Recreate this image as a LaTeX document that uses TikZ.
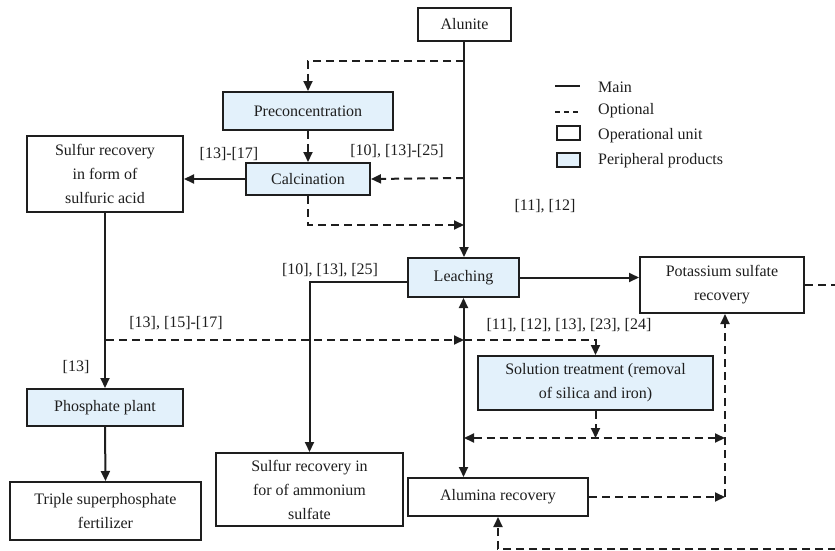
\documentclass[tikz,border=0pt]{standalone}
\usepackage{fontspec}
\setmainfont{Liberation Serif}
\usetikzlibrary{arrows.meta}
\definecolor{pblue}{RGB}{227,241,251}
\definecolor{ink}{RGB}{30,30,30}
\begin{document}
\begin{tikzpicture}[x=1pt,y=-1pt,
  txt/.style={font=\fontsize{16}{24}\selectfont, text=ink},
  box/.style={txt, draw=ink, line width=2pt, inner sep=0pt, align=center},
  unit/.style={box, fill=white},
  peri/.style={box, fill=pblue},
  mainln/.style={draw=ink, line width=2pt},
  optln/.style={draw=ink, line width=2pt, dash pattern=on 8pt off 5pt},
  tip/.style={-{Triangle[length=10pt,width=9pt]}},
  dtip/.style={{Triangle[length=10pt,width=9pt]}-{Triangle[length=10pt,width=9pt]}},
  lbl/.style={txt, inner sep=0pt}
]
\useasboundingbox (0,0) rectangle (835,551);

% boxes
\node[unit, minimum width=93pt, minimum height=33pt] (alunite) at (464.5,24.5) {Alunite};
\node[peri, minimum width=170pt, minimum height=38pt] (precon) at (308,111) {Preconcentration};
\node[peri, minimum width=124pt, minimum height=32pt] (calc) at (308,179) {Calcination};
\node[unit, minimum width=156pt, minimum height=76pt] (sacid) at (105,174) {Sulfur recovery\\in form of\\sulfuric acid};
\node[peri, minimum width=111pt, minimum height=39pt] (leach) at (463.5,277.5) {Leaching};
\node[unit, minimum width=164pt, minimum height=56pt] (potass) at (722,285) {Potassium sulfate\\recovery};
\node[peri, minimum width=235pt, minimum height=54pt] (solut) at (595.5,383) {Solution treatment (removal\\of silica and iron)};
\node[unit, minimum width=187pt, minimum height=73pt] (ammon) at (309.5,489.5) {Sulfur recovery in\\for of ammonium\\sulfate};
\node[unit, minimum width=180pt, minimum height=38pt] (alumina) at (498,497) {Alumina recovery};
\node[peri, minimum width=156pt, minimum height=37pt] (phos) at (105,407.5) {Phosphate plant};
\node[unit, minimum width=191pt, minimum height=58pt] (triple) at (105.5,511) {Triple superphosphate\\fertilizer};

% junction coordinates
\coordinate (j1) at (464,61);
\coordinate (j2) at (464,178);
\coordinate (j3) at (464,225);
\coordinate (j4) at (106,340);
\coordinate (j5) at (464,340);
\coordinate (k1) at (464,438);
\coordinate (k2) at (725,438);
\coordinate (k3) at (725,497);
\coordinate (r1) at (836,285);
\coordinate (m1) at (836,549);

% main connectors
\draw[mainln, tip] (alunite.south -| j1) -- (leach.north -| j1);
\draw[mainln, tip] (calc.west) -- (sacid.east |- calc.west);
\draw[mainln, tip] (sacid.south) -- (phos.north);
\draw[mainln, tip] (phos.south) -- (triple.north);
\draw[mainln, tip] ([yshift=-4pt]leach.west) -| (ammon.north);
\draw[mainln, tip] (leach.east) -- (leach.east -| potass.west);
\draw[mainln, dtip] (leach.south) -- (leach.south |- alumina.north);

% optional connectors
\draw[optln, tip] (j1) -| (precon.north);
\draw[optln, tip] (precon.south) -- (calc.north);
\draw[optln, tip] (j2) -- (calc.east);
\draw[optln, tip] (calc.south) |- (j3);
\draw[optln, tip] (j4) -- (j5);
\draw[optln, tip] (j5) -| (solut.north);
\draw[optln, tip] (solut.south) -- (solut.south |- k1);
\draw[optln, dtip] (k1) -- (k2);
\draw[optln, tip] (k3) -- (k3 |- potass.south);
\draw[optln, tip] (alumina.east) -- (k3);
\draw[optln] (potass.east) -- (r1);
\draw[optln, tip] (m1) -| (alumina.south);

% labels
\node[lbl] (l1) at (397,151) {[10], [13]-[25]};
\node[lbl] (l2) at (545,206) {[11], [12]};
\node[lbl] (l3) at (229,154) {[13]-[17]};
\node[lbl] (l4) at (176,323) {[13], [15]-[17]};
\node[lbl] (l5) at (569,325) {[11], [12], [13], [23], [24]};
\node[lbl] (l6) at (76,367) {[13]};
\node[lbl] (l7) at (330,270) {[10], [13], [25]};

% legend
\coordinate (g1) at (555,86);
\coordinate (g2) at (580,86);
\coordinate (g3) at (555,112);
\coordinate (g4) at (580,112);
\draw[draw=ink, line width=1.4pt] (g1) -- (g2);
\draw[draw=ink, line width=1.4pt, dash pattern=on 5pt off 4pt] (g3) -- (g4);
\node[draw=ink, line width=1.4pt, fill=white, minimum width=23pt, minimum height=14pt, inner sep=0pt] (gb1) at (568.5,133) {};
\node[draw=ink, line width=1.4pt, fill=pblue, minimum width=23pt, minimum height=14pt, inner sep=0pt] (gb2) at (568.5,160) {};
\node[lbl, anchor=west] (t1) at (598,87) {Main};
\node[lbl, anchor=west] (t2) at (598,111) {Optional};
\node[lbl, anchor=west] (t3) at (598,136) {Operational unit};
\node[lbl, anchor=west] (t4) at (598,161) {Peripheral products};
\end{tikzpicture}
\end{document}
